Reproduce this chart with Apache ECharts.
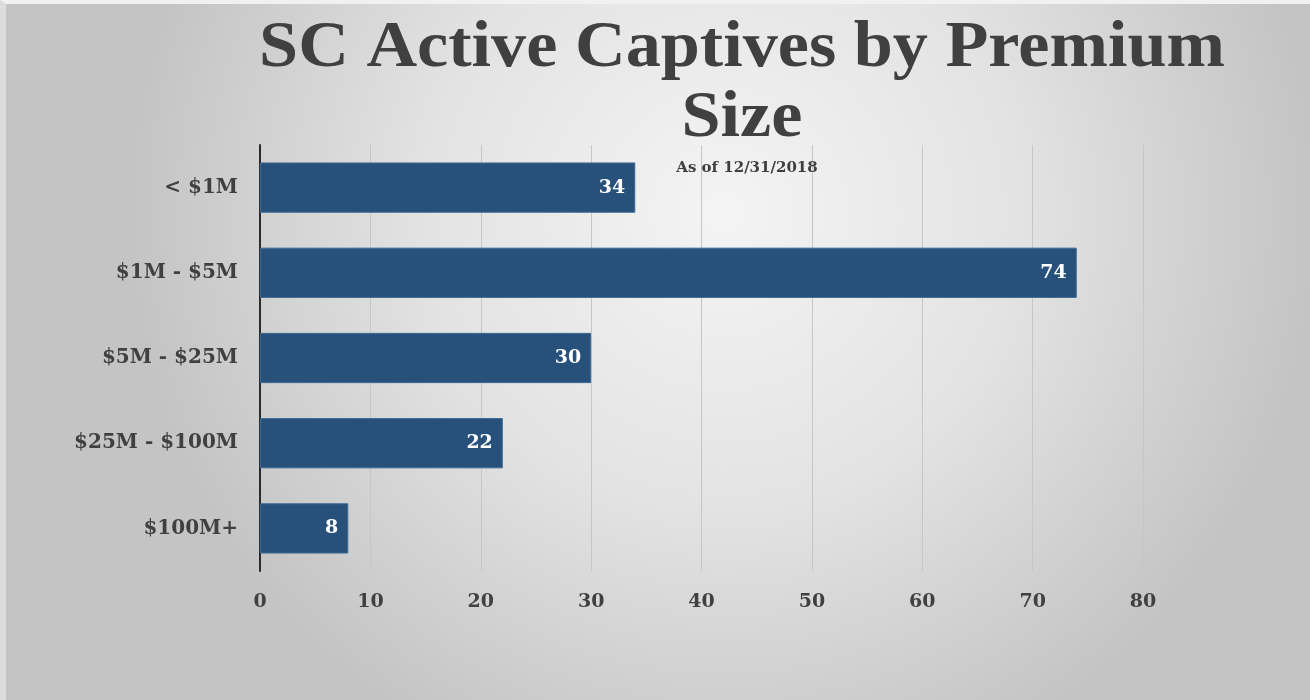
<!DOCTYPE html>
<html><head><meta charset="utf-8">
<script src="https://cdn.jsdelivr.net/npm/echarts@6/dist/echarts.min.js"></script>
<style>html,body{margin:0;padding:0;background:#f2f2f2;overflow:hidden}
#wrap{width:1310px;height:700px;box-sizing:border-box;border-top:4px solid #f1f1f1;border-left:6px solid #dcdcdc}
#c{width:1304px;height:696px}</style>
</head><body><div id="wrap"><div id="c"></div></div>
<script>
const categories = ['< $1M', '$1M - $5M', '$5M - $25M', '$25M - $100M', '$100M+'];
const values = [34, 74, 30, 22, 8];
const titleText = 'SC Active Captives by Premium\nSize';
const subtitleText = 'As of 12/31/2018';

const chart = echarts.init(document.getElementById('c'));
const serif = '"Liberation Serif", "DejaVu Serif", serif';
const wide = '"DejaVu Serif", "Liberation Serif", serif';
chart.setOption({
  backgroundColor: {
    type: 'radial', x: 0.55, y: 0.3, r: 0.85,
    colorStops: [{offset: 0, color: '#f4f4f4'}, {offset: 0.5, color: '#e3e3e3'}, {offset: 1, color: '#c4c4c4'}]
  },
  animation: false,
  title: [{
    text: subtitleText, left: 736, top: 152, textAlign: 'center',
    textStyle: {fontFamily: wide, fontWeight: 'bold', fontSize: 15, color: '#404040'}
  }],
  graphic: [{
    type: 'text', x: 736, y: 10, scaleX: 1.08, z: 10,
    style: {text: titleText, fontFamily: serif, fontWeight: 'bold', fontSize: 65,
      lineHeight: 70, fill: '#404040', align: 'center', verticalAlign: 'top'}
  }],
  grid: {left: 254, right: 167, top: 141, bottom: 129},
  xAxis: {
    type: 'value', min: 0, max: 80, interval: 10,
    axisLine: {show: false}, axisTick: {show: false},
    splitLine: {show: true, lineStyle: {color: '#c6c6c6', width: 1}},
    axisLabel: {fontFamily: wide, fontWeight: 'bold', fontSize: 19, color: '#404040', margin: 22}
  },
  yAxis: {
    type: 'category', data: categories, inverse: true,
    axisLine: {show: true, lineStyle: {color: '#2b2b2b', width: 2}},
    axisTick: {show: false},
    axisLabel: {fontFamily: wide, fontWeight: 'bold', fontSize: 20, color: '#404040', margin: 22}
  },
  series: [{
    type: 'bar', data: values, barCategoryGap: '41%',
    itemStyle: {color: '#27517a', borderColor: '#3d6a94', borderWidth: 1},
    label: {show: true, position: 'insideRight', distance: 10,
      fontFamily: wide, fontWeight: 'bold', fontSize: 19, color: '#ffffff'}
  }]
});
</script></body></html>
